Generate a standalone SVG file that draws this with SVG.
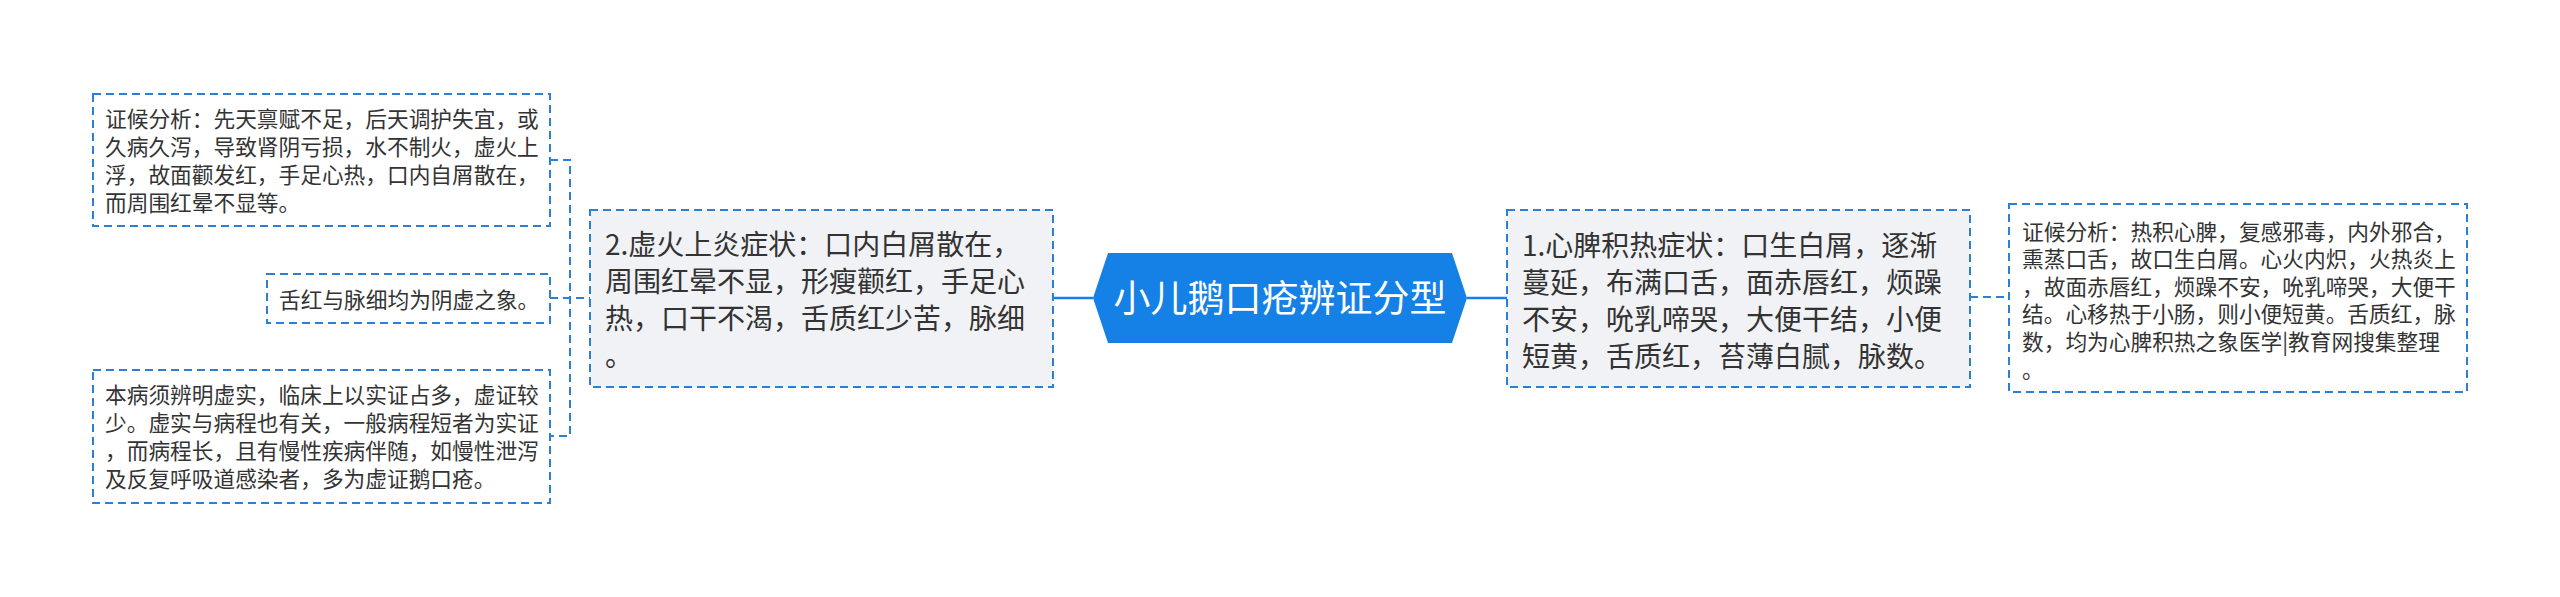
<svg xmlns="http://www.w3.org/2000/svg" width="2560" height="597" viewBox="0 0 2560 597">
<defs>
<style>
.t{font-family:"Noto Sans CJK SC","Liberation Sans",sans-serif;fill:#333333;}
.s{font-size:21.7px;}
.m{font-size:28px;}
.box{stroke:#2b7fd4;stroke-width:2;stroke-dasharray:8 5;}
.main{fill:#f0f2f5;}
.sub{fill:#ffffff;}
.dash{fill:none;stroke:#2b7fd4;stroke-width:2;stroke-dasharray:8 5;}
.solid{fill:none;stroke:#1580e6;stroke-width:2.5;}
</style>
</defs>
<rect width="2560" height="597" fill="#ffffff"/>
<g id="connectors">
<path class="dash" d="M550,160 H570 V436 H550"/>
<path class="dash" d="M550,298 H590"/>
<path class="solid" d="M1053,298 H1093"/>
<path class="solid" d="M1467,298 H1507"/>
<path class="dash" d="M1970,297 H2009"/>
</g>
<g id="root">
<polygon points="1093,298 1108,253 1452,253 1467,298 1452,343 1108,343" fill="#1580e6"/>
<text x="1280" y="312" text-anchor="middle" font-family="Noto Sans CJK SC, Liberation Sans, sans-serif" font-size="37" fill="#ffffff">小儿鹅口疮辨证分型</text>
</g>
<g id="node-xuhuo">
<rect class="box main" x="590" y="210" width="463" height="177"/>
<text class="t m" x="605" y="255">2.虚火上炎症状：口内白屑散在，</text>
<text class="t m" x="605" y="292">周围红晕不显，形瘦颧红，手足心</text>
<text class="t m" x="605" y="329">热，口干不渴，舌质红少苦，脉细</text>
<text class="t m" x="605" y="366">。</text>
</g>
<g id="node-xinpi">
<rect class="box main" x="1507" y="210" width="463" height="177"/>
<text class="t m" x="1522" y="256">1.心脾积热症状：口生白屑，逐渐</text>
<text class="t m" x="1522" y="293">蔓延，布满口舌，面赤唇红，烦躁</text>
<text class="t m" x="1522" y="330">不安，吮乳啼哭，大便干结，小便</text>
<text class="t m" x="1522" y="367">短黄，舌质红，苔薄白腻，脉数。</text>
</g>
<g id="node-xuhuo-analysis">
<rect class="box sub" x="93" y="94" width="457" height="132"/>
<text class="t s" x="105" y="127">证候分析：先天禀赋不足，后天调护失宜，或</text>
<text class="t s" x="105" y="155">久病久泻，导致肾阴亏损，水不制火，虚火上</text>
<text class="t s" x="105" y="183">浮，故面颧发红，手足心热，口内自屑散在，</text>
<text class="t s" x="105" y="211">而周围红晕不显等。</text>
</g>
<g id="node-xuhuo-tongue">
<rect class="box sub" x="267" y="274" width="283" height="49"/>
<text class="t s" x="279" y="308">舌红与脉细均为阴虚之象。</text>
</g>
<g id="node-xuhuo-note">
<rect class="box sub" x="93" y="370" width="457" height="133"/>
<text class="t s" x="105" y="403">本病须辨明虚实，临床上以实证占多，虚证较</text>
<text class="t s" x="105" y="431">少。虚实与病程也有关，一般病程短者为实证</text>
<text class="t s" x="105" y="459">，而病程长，且有慢性疾病伴随，如慢性泄泻</text>
<text class="t s" x="105" y="487">及反复呼吸道感染者，多为虚证鹅口疮。</text>
</g>
<g id="node-xinpi-analysis">
<rect class="box sub" x="2009" y="204" width="458" height="188"/>
<text class="t s" x="2022" y="240">证候分析：热积心脾，复感邪毒，内外邪合，</text>
<text class="t s" x="2022" y="267">熏蒸口舌，故口生白屑。心火内炽，火热炎上</text>
<text class="t s" x="2022" y="295">，故面赤唇红，烦躁不安，吮乳啼哭，大便干</text>
<text class="t s" x="2022" y="322">结。心移热于小肠，则小便短黄。舌质红，脉</text>
<text class="t s" x="2022" y="350">数，均为心脾积热之象医学|教育网搜集整理</text>
<text class="t s" x="2022" y="378">。</text>
</g>
</svg>
